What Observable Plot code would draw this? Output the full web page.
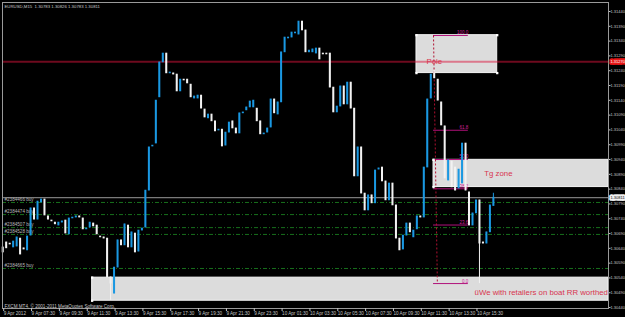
<!DOCTYPE html>
<html><head><meta charset="utf-8">
<script src="https://cdn.jsdelivr.net/npm/d3@7"></script>
<script src="https://cdn.jsdelivr.net/npm/@observablehq/plot@0.6"></script>
<style>html,body{margin:0;padding:0;background:#000;overflow:hidden}</style>
</head><body><div id="chart"></div>
<script>
// ---- EURUSD M15 candles (bar index 0 = 9 Apr 05:30) ----
const open = [
1.30643,1.30660,1.30656,1.30643,1.30646,1.30673,1.30640,1.30633,1.30683,1.30775,
1.30737,1.30795,1.30805,1.30748,1.30734,1.30727,1.30717,1.30727,1.30734,1.30687,
1.30741,1.30744,1.30748,1.30741,1.30704,1.30710,1.30724,1.30717,1.30680,1.30677,
1.30673,1.30542,1.30487,1.30575,1.30667,1.30650,1.30717,1.30643,1.30690,1.30629,
1.30700,1.30710,1.30835,1.30984,1.30994,1.31150,1.31268,1.31298,1.31231,1.31231,
1.31227,1.31170,1.31210,1.31210,1.31193,1.31146,1.31146,1.31156,1.31109,1.31079,
1.31092,1.31069,1.31038,1.31041,1.30987,1.31031,1.31069,1.31045,1.31028,1.31096,
1.31106,1.31116,1.31116,1.31112,1.31069,1.31025,1.31031,1.31048,1.31143,1.31092,
1.31133,1.31302,1.31349,1.31352,1.31366,1.31362,1.31406,1.31376,1.31302,1.31302,
1.31298,1.31315,1.31298,1.31298,1.31298,1.31183,1.31099,1.31119,1.31187,1.31126,
1.31200,1.31112,1.30883,1.30981,1.30825,1.30768,1.30819,1.30792,1.30906,1.30913,
1.30866,1.30802,1.30859,1.30785,1.30673,1.30636,1.30683,1.30724,1.30677,1.30704,
1.30748,1.30744,1.30913,1.31146,1.31231,1.31210,1.31133,1.31052,1.30869,1.30933,
1.30913,1.30842,1.30859,1.30994,1.30829,1.30717,1.30758,1.30802,1.30660,1.30656,
1.30694,1.30783];
const high = [
1.30643,1.30660,1.30656,1.30663,1.30677,1.30673,1.30640,1.30680,1.30775,1.30775,
1.30798,1.30805,1.30805,1.30748,1.30734,1.30727,1.30727,1.30731,1.30734,1.30741,
1.30744,1.30748,1.30748,1.30741,1.30707,1.30727,1.30724,1.30717,1.30680,1.30677,
1.30673,1.30542,1.30575,1.30667,1.30667,1.30721,1.30717,1.30694,1.30690,1.30700,
1.30707,1.30835,1.30981,1.30987,1.31139,1.31268,1.31298,1.31298,1.31234,1.31231,
1.31227,1.31210,1.31210,1.31210,1.31193,1.31153,1.31156,1.31156,1.31109,1.31092,
1.31092,1.31069,1.31041,1.31041,1.31031,1.31065,1.31069,1.31045,1.31096,1.31099,
1.31116,1.31136,1.31139,1.31112,1.31069,1.31028,1.31045,1.31143,1.31143,1.31133,
1.31302,1.31352,1.31352,1.31369,1.31369,1.31406,1.31406,1.31376,1.31308,1.31312,
1.31315,1.31315,1.31298,1.31298,1.31298,1.31183,1.31119,1.31187,1.31187,1.31200,
1.31200,1.31112,1.30981,1.30981,1.30825,1.30819,1.30819,1.30903,1.30910,1.30913,
1.30866,1.30859,1.30859,1.30785,1.30673,1.30683,1.30724,1.30724,1.30700,1.30748,
1.30748,1.30913,1.31143,1.31227,1.31241,1.31210,1.31133,1.31052,1.30937,1.30933,
1.30913,1.30906,1.30994,1.30994,1.30829,1.30758,1.30802,1.30802,1.30660,1.30694,
1.30785,1.30826];
const low = [
1.30626,1.30640,1.30653,1.30643,1.30646,1.30619,1.30636,1.30633,1.30683,1.30737,
1.30737,1.30795,1.30751,1.30737,1.30731,1.30721,1.30717,1.30727,1.30690,1.30687,
1.30741,1.30744,1.30744,1.30704,1.30704,1.30710,1.30714,1.30687,1.30677,1.30673,
1.30542,1.30464,1.30487,1.30575,1.30650,1.30650,1.30643,1.30643,1.30626,1.30629,
1.30700,1.30710,1.30835,1.30984,1.30994,1.31150,1.31268,1.31231,1.31231,1.31227,
1.31170,1.31170,1.31207,1.31197,1.31150,1.31146,1.31146,1.31112,1.31082,1.31079,
1.31069,1.31035,1.31038,1.30984,1.30987,1.31031,1.31045,1.31028,1.31028,1.31096,
1.31106,1.31116,1.31116,1.31069,1.31025,1.31025,1.31031,1.31048,1.31096,1.31092,
1.31133,1.31302,1.31349,1.31352,1.31366,1.31362,1.31376,1.31302,1.31302,1.31302,
1.31298,1.31278,1.31295,1.31295,1.31183,1.31099,1.31099,1.31119,1.31126,1.31126,
1.31112,1.30883,1.30883,1.30825,1.30768,1.30768,1.30792,1.30792,1.30906,1.30866,
1.30802,1.30802,1.30785,1.30673,1.30633,1.30636,1.30683,1.30694,1.30677,1.30704,
1.30744,1.30744,1.30913,1.31146,1.31214,1.31139,1.31055,1.30876,1.30869,1.30846,
1.30835,1.30842,1.30859,1.30835,1.30717,1.30717,1.30758,1.30521,1.30656,1.30656,
1.30694,1.30783];
const close = [
1.30626,1.30640,1.30653,1.30663,1.30677,1.30619,1.30636,1.30680,1.30775,1.30737,
1.30798,1.30805,1.30751,1.30737,1.30731,1.30721,1.30727,1.30731,1.30690,1.30741,
1.30744,1.30748,1.30744,1.30704,1.30707,1.30727,1.30714,1.30687,1.30677,1.30673,
1.30542,1.30521,1.30575,1.30667,1.30650,1.30721,1.30643,1.30694,1.30626,1.30700,
1.30707,1.30835,1.30981,1.30987,1.31139,1.31268,1.31298,1.31231,1.31234,1.31227,
1.31170,1.31210,1.31207,1.31197,1.31150,1.31153,1.31156,1.31112,1.31082,1.31092,
1.31069,1.31035,1.31041,1.30984,1.31031,1.31065,1.31045,1.31028,1.31096,1.31099,
1.31116,1.31136,1.31139,1.31069,1.31025,1.31028,1.31045,1.31143,1.31096,1.31133,
1.31302,1.31352,1.31352,1.31369,1.31369,1.31406,1.31376,1.31302,1.31308,1.31312,
1.31315,1.31278,1.31295,1.31295,1.31183,1.31099,1.31119,1.31187,1.31126,1.31200,
1.31112,1.30883,1.30981,1.30825,1.30768,1.30819,1.30792,1.30903,1.30910,1.30866,
1.30802,1.30859,1.30785,1.30673,1.30633,1.30683,1.30724,1.30694,1.30700,1.30748,
1.30744,1.30913,1.31143,1.31227,1.31214,1.31139,1.31055,1.30876,1.30937,1.30846,
1.30835,1.30906,1.30994,1.30835,1.30717,1.30758,1.30802,1.30656,1.30656,1.30694,
1.30785,1.30811];

// ---- axes ----
const timeTickIndex = [0,8,16,24,32,40,48,56,64,72,80,88,96,104,112,120,128,136];
const timeTickLabels = ["9 Apr 2012","9 Apr 07:30","9 Apr 09:30","9 Apr 11:30","9 Apr 13:30",
  "9 Apr 15:30","9 Apr 17:30","9 Apr 19:30","9 Apr 21:30","9 Apr 23:30","10 Apr 01:30",
  "10 Apr 03:30","10 Apr 05:30","10 Apr 07:30","10 Apr 09:30","10 Apr 11:30","10 Apr 13:30","10 Apr 15:30"];
const priceTicks = [1.31440,1.31390,1.31340,1.31290,1.31240,1.31190,1.31140,1.31090,1.31040,
  1.30990,1.30940,1.30890,1.30840,1.30790,1.30740,1.30690,1.30640,1.30590,1.30540,1.30490,1.30440];
const xDomain = [-0.06, 174.08];
const yDomain = [1.304368, 1.314704];

// ---- objects on the chart ----
const headerText = "EURUSD,M15  1.30783 1.30826 1.30783 1.30811";
const copyrightText = "FXCM MT4, \u00a9 2001-2011 MetaQuotes Software Corp.";
const bidPrice = 1.30811;
const polePrice = 1.31270;
const orderPrices = [1.30795, 1.30754, 1.30710, 1.30687, 1.30572];
const orderLabels = ["#2384466 buy","#2384474 buy","#2384507 buy","#2384528 buy","#2384665 buy"];
const zoneX1 = [118.9, 123.8, 25.7];
const zoneX2 = [142.1, 174.08, 174.08];
const zoneTop = [1.31360, 1.30939, 1.30541];
const zoneBottom = [1.31232, 1.30847, 1.30463];
const zoneHandles = [4, 2, 2];
const noteText = ["Pole", "Tg zone", "\u00fcWe with retailers on boat RR worthed"];
const noteX = [121.8, 138.4, 135.6];
const notePrice = [1.31271, 1.30893, 1.30492];
const fibLevels = [0, 23.6, 38.2, 50.0, 61.8, 100.0];
const fibLow = 1.30521, fibHigh = 1.31359;
const fibX1 = 123.8, fibX2 = 133.8, fibLineEnd = 124.9;

const bars = open.map((o, i) => ({i, o, h: high[i], l: low[i], c: close[i], up: close[i] >= o}));
const zones = zoneX1.map((x1, k) => ({x1, x2: zoneX2[k], y1: zoneTop[k], y2: zoneBottom[k], n: zoneHandles[k]}));
const handles = zones.flatMap(z => z.n === 4
  ? [[z.x1, z.y1], [z.x2, z.y1], [z.x1, z.y2], [z.x2, z.y2]]
  : [[z.x1, z.y1], [z.x1, z.y2]]);
const fib = fibLevels.map(l => ({l, p: fibLow + (fibHigh - fibLow) * l / 100}));
const orders = orderPrices.map((p, k) => ({p, label: orderLabels[k]}));
const notes = noteText.map((t, k) => ({t, x: noteX[k], y: notePrice[k]}));
const tickLabel = new Map(timeTickIndex.map((d, k) => [d, timeTickLabels[k]]));

const bull = "#1a98e2", bear = "#f2f2f2";

const chart = Plot.plot({
  width: 625, height: 317,
  marginLeft: 2, marginRight: 17, marginTop: 2, marginBottom: 9,
  style: {background: "#000", color: "#c4c4c4", fontFamily: "Liberation Sans, Arial, sans-serif"},
  x: {domain: xDomain, axis: null},
  y: {domain: yDomain, axis: null},
  marks: [
    Plot.rect(zones, {x1: "x1", x2: "x2", y1: "y1", y2: "y2", fill: "#dcdcdc", stroke: "#f4f4f4", strokeWidth: 1}),
    Plot.ruleY(orders, {y: "p", stroke: "#17701c", strokeWidth: 1, strokeDasharray: "4,2,1,2"}),
    Plot.text(orders, {y: "p", text: "label", frameAnchor: "left", dx: 2, dy: -3, textAnchor: "start", fontSize: 4.6, fill: "#b8b8b8"}),
    Plot.ruleY([bidPrice], {stroke: "#9a9a9a", strokeWidth: 1}),
    Plot.ruleY([polePrice], {stroke: "#dc143c", strokeOpacity: 0.5, strokeWidth: 2}),
    Plot.ruleY(fib, {y: "p", x1: fibX1, x2: fibX2, stroke: "#b0107a", strokeWidth: 1}),
    Plot.text(fib, {x: fibX2, y: "p", text: d => d.l.toFixed(1), dy: -2.5, textAnchor: "end", fontSize: 4.5, fill: "#d0209a"}),
    Plot.link([{x1: fibX1, y1: fibHigh, x2: fibLineEnd, y2: fibLow}], {x1: "x1", y1: "y1", x2: "x2", y2: "y2", stroke: "#b01030", strokeDasharray: "2,2", strokeWidth: 1}),
    Plot.ruleX(bars, {x: "i", y1: "l", y2: "h", stroke: d => d.up ? bull : bear, strokeWidth: 1}),
    Plot.ruleX(bars, {x: "i", y1: d => Math.min(d.o, d.c) - 0.000012, y2: d => Math.max(d.o, d.c) + 0.000012, stroke: d => d.up ? bull : bear, strokeWidth: 2}),
    Plot.dot(handles, {x: d => d[0], y: d => d[1], symbol: "square", r: 1.3, fill: "#ffffff"}),
    Plot.text(notes, {x: "x", y: "y", text: "t", textAnchor: "start", fontSize: 7.8, fill: "#d8344e"}),
    Plot.frame({stroke: "#9a9a9a", strokeWidth: 1}),
    Plot.axisY({anchor: "right", ticks: priceTicks, tickFormat: d => d.toFixed(5), tickSize: 1.5, tickPadding: 0.5, fontSize: 4}),
    Plot.axisX({anchor: "bottom", ticks: timeTickIndex, tickFormat: d => tickLabel.get(d), tickSize: 3, tickPadding: 0, fontSize: 4.6, textAnchor: "start", dx: 1}),
    Plot.text([polePrice], {y: d => d, text: d => d.toFixed(5), frameAnchor: "right", dx: 2, textAnchor: "start", fontSize: 4, fill: "#ffffff", stroke: "#e81818", strokeWidth: 3.5}),
    Plot.text([bidPrice], {y: d => d, text: d => d.toFixed(5), frameAnchor: "right", dx: 2, textAnchor: "start", fontSize: 4, fill: "#000000", stroke: "#f0f0f0", strokeWidth: 3.5}),
    Plot.text([headerText], {text: d => d, frameAnchor: "top-left", dx: 2, dy: 2, lineAnchor: "top", textAnchor: "start", fontSize: 4.3, fill: "#c8c8c8"}),
    Plot.text([copyrightText], {text: d => d, frameAnchor: "bottom-left", dx: 2, dy: -1, lineAnchor: "bottom", textAnchor: "start", fontSize: 4.6, fill: "#c8c8c8"})
  ]
});
document.getElementById("chart").append(chart);
</script>
</body></html>
